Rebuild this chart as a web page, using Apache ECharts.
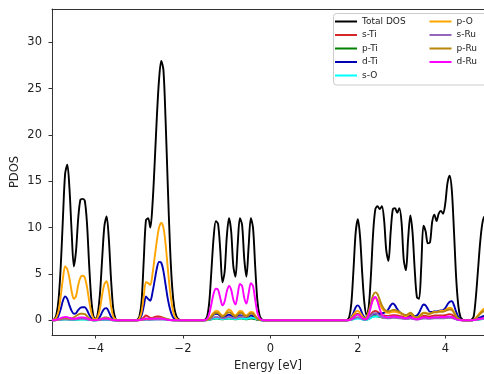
<!DOCTYPE html>
<html><head><meta charset="utf-8">
<script src="https://cdn.jsdelivr.net/npm/echarts@6/dist/echarts.min.js"></script>
<style>html,body{margin:0;padding:0;background:#fff}#c{width:484px;height:374px}</style>
</head><body><div id="c"></div>
<script>
// Energy grid (eV)
const energy = [
 -5.00,-4.95,-4.90,-4.85,-4.80,-4.75,-4.70,-4.65,-4.60,-4.55,-4.50,-4.45,-4.40,-4.35,-4.30,-4.25,-4.20,-4.15,-4.10,-4.05,-4.00,-3.95,-3.90,-3.85,-3.80,-3.75,-3.70,-3.65,-3.60,-3.55,-3.50,
 -3.10,-3.05,-3.00,-2.95,-2.90,-2.85,-2.80,-2.75,-2.70,-2.65,-2.60,-2.55,-2.50,-2.45,-2.40,-2.35,-2.30,-2.25,-2.20,-2.15,-2.10,-2.05,
 -1.55,-1.50,-1.45,-1.40,-1.35,-1.30,-1.25,-1.20,-1.15,-1.10,-1.05,-1.00,-0.95,-0.90,-0.85,-0.80,-0.75,-0.70,-0.65,-0.60,-0.55,-0.50,-0.45,-0.40,-0.35,-0.30,-0.25,-0.20,-0.15,
 1.70,1.75,1.80,1.85,1.90,1.95,2.00,2.05,2.10,2.15,2.20,2.25,2.30,2.35,2.40,2.45,2.50,2.55,2.60,2.65,2.70,2.75,2.80,2.85,2.90,2.95,3.00,3.05,3.10,3.15,3.20,3.25,3.30,3.35,3.40,3.45,3.50,3.55,3.60,3.65,3.70,3.75,3.80,3.85,3.90,3.95,4.00,4.05,4.10,4.15,4.20,4.25,4.30,4.35,4.40,4.45,
 4.50,4.55,4.60,4.65,4.70,4.75,4.80,4.85,4.90,4.95,5.00
];

const totalDOS = [
 0,0.1,0.6,2.2,5.8,11.0,15.8,16.8,14.2,9.5,5.8,7.5,11.0,13.0,13.1,12.9,10.5,6.0,2.2,0.4,0.15,0.8,3.0,6.8,10.2,11.2,8.8,4.5,1.3,0.2,0,
 0,0.05,0.4,2.0,6.5,10.8,11.0,10.0,12.5,17.0,22.0,26.0,28.0,27.0,21.5,14.5,8.0,3.6,1.3,0.4,0.1,0,
 0,0.05,0.4,2.0,5.5,9.0,10.7,10.4,7.6,4.1,5.2,9.0,11.0,9.6,5.8,4.7,8.2,11.0,10.3,6.6,4.7,8.0,11.0,10.0,5.8,2.1,0.5,0.08,0,
 0,0.03,0.3,1.8,5.5,9.5,10.9,9.0,5.0,1.8,0.5,1.5,5.0,9.5,12.0,12.3,12.0,12.3,10.8,7.5,6.4,9.5,12.0,12.1,11.6,12.1,10.5,6.5,5.4,8.8,11.3,9.5,5.5,2.5,2.3,5.8,10.2,9.6,8.3,8.4,10.6,11.4,10.7,11.5,11.8,11.5,12.6,14.8,15.6,14.0,9.5,4.5,1.5,0.3,0.05,0,
 0,0,0.05,0.4,2.5,5.5,8.5,10.5,11.2,11.0,9.5
];
const sTi = [
 0,0,0.02,0.05,0.1,0.15,0.18,0.16,0.12,0.1,0.1,0.12,0.18,0.22,0.22,0.2,0.14,0.07,0.02,0,0,0.01,0.04,0.08,0.12,0.12,0.08,0.03,0.01,0,0,
 0,0,0.02,0.1,0.3,0.5,0.4,0.25,0.25,0.35,0.4,0.4,0.35,0.25,0.12,0.05,0.02,0,0,0,0,0,
 0,0,0.02,0.06,0.15,0.22,0.25,0.24,0.18,0.14,0.16,0.22,0.25,0.22,0.16,0.14,0.2,0.25,0.24,0.17,0.14,0.2,0.25,0.22,0.14,0.05,0.01,0,0,
 0,0,0.02,0.12,0.35,0.6,0.7,0.55,0.3,0.12,0.1,0.3,0.65,0.9,1.0,0.9,0.7,0.55,0.5,0.45,0.45,0.5,0.55,0.55,0.5,0.45,0.4,0.35,0.3,0.35,0.4,0.35,0.25,0.2,0.25,0.35,0.45,0.45,0.4,0.4,0.45,0.5,0.5,0.5,0.5,0.5,0.55,0.6,0.65,0.6,0.45,0.2,0.07,0.02,0,0,
 0,0,0,0.01,0.05,0.1,0.15,0.2,0.22,0.22,0.2
];
const pTi = [
 0,0,0.01,0.03,0.05,0.08,0.1,0.09,0.07,0.05,0.05,0.06,0.08,0.1,0.1,0.09,0.07,0.04,0.01,0,0,0.01,0.02,0.04,0.06,0.06,0.04,0.02,0,0,0,
 0,0,0.01,0.03,0.06,0.1,0.09,0.08,0.1,0.12,0.14,0.15,0.15,0.13,0.1,0.06,0.03,0.01,0,0,0,0,
 0,0,0.01,0.04,0.1,0.15,0.18,0.17,0.12,0.1,0.12,0.16,0.18,0.16,0.12,0.1,0.14,0.18,0.17,0.12,0.1,0.14,0.18,0.16,0.1,0.04,0.01,0,0,
 0,0,0.01,0.05,0.15,0.25,0.3,0.25,0.12,0.05,0.05,0.15,0.3,0.4,0.45,0.4,0.35,0.3,0.28,0.25,0.25,0.28,0.3,0.3,0.28,0.25,0.22,0.2,0.18,0.2,0.22,0.2,0.15,0.12,0.15,0.2,0.25,0.25,0.22,0.22,0.25,0.28,0.28,0.28,0.28,0.28,0.3,0.32,0.35,0.32,0.25,0.12,0.04,0.01,0,0,
 0,0,0,0.01,0.03,0.06,0.09,0.11,0.12,0.12,0.11
];
const dTi = [
 0,0.02,0.15,0.5,1.2,2.1,2.55,2.3,1.6,1.0,0.7,0.75,1.1,1.35,1.4,1.4,1.1,0.6,0.2,0.05,0.03,0.1,0.4,0.9,1.25,1.3,0.9,0.4,0.1,0.02,0,
 0,0.01,0.1,0.5,1.5,2.55,2.3,2.1,3.0,4.3,5.6,6.3,6.2,5.3,3.8,2.3,1.2,0.5,0.15,0.04,0,0,
 0,0.01,0.04,0.15,0.4,0.6,0.7,0.65,0.45,0.3,0.35,0.5,0.6,0.5,0.35,0.3,0.4,0.55,0.5,0.35,0.3,0.4,0.5,0.45,0.3,0.1,0.03,0,0,
 0,0,0.05,0.3,0.8,1.4,1.6,1.3,0.7,0.3,0.2,0.3,0.5,0.65,0.7,0.7,0.7,0.75,0.8,0.9,1.2,1.6,1.8,1.6,1.2,0.9,0.7,0.6,0.55,0.5,0.55,0.5,0.45,0.5,0.8,1.3,1.7,1.6,1.2,0.9,0.9,0.95,0.95,1.0,1.05,1.1,1.3,1.7,2.0,2.05,1.6,0.9,0.35,0.1,0.02,0,
 0,0,0,0.02,0.1,0.2,0.3,0.4,0.45,0.45,0.4
];
const sO = [
 0,0,0.01,0.02,0.04,0.06,0.07,0.06,0.05,0.04,0.04,0.05,0.06,0.07,0.07,0.06,0.05,0.03,0.01,0,0,0,0.01,0.03,0.04,0.04,0.03,0.01,0,0,0,
 0,0,0.01,0.02,0.04,0.06,0.06,0.05,0.06,0.08,0.1,0.1,0.1,0.09,0.07,0.04,0.02,0.01,0,0,0,0,
 0,0,0.01,0.05,0.12,0.18,0.2,0.2,0.15,0.12,0.14,0.18,0.2,0.18,0.14,0.12,0.16,0.2,0.2,0.16,0.15,0.2,0.25,0.25,0.18,0.08,0.02,0,0,
 0,0,0.01,0.04,0.1,0.15,0.18,0.15,0.08,0.04,0.05,0.12,0.25,0.35,0.4,0.4,0.38,0.35,0.35,0.35,0.35,0.35,0.35,0.33,0.3,0.28,0.25,0.22,0.2,0.2,0.22,0.2,0.15,0.12,0.14,0.18,0.22,0.22,0.2,0.2,0.22,0.22,0.22,0.22,0.22,0.22,0.24,0.26,0.28,0.26,0.2,0.1,0.03,0.01,0,0,
 0,0,0,0.01,0.03,0.06,0.09,0.11,0.12,0.12,0.11
];
const pO = [
 0,0.05,0.3,1.0,2.6,4.5,5.8,5.5,4.5,3.1,2.3,2.6,3.8,4.6,4.8,4.6,3.6,2.1,0.8,0.2,0.1,0.4,1.3,2.8,3.9,4.2,3.2,1.5,0.4,0.1,0,
 0,0.02,0.2,0.9,2.6,4.1,4.0,3.8,5.0,6.8,8.6,10.0,10.5,10.0,8.2,5.6,3.2,1.5,0.5,0.15,0.03,0,
 0,0.01,0.05,0.2,0.5,0.8,1.0,0.95,0.7,0.5,0.6,0.95,1.15,1.0,0.65,0.5,0.75,1.0,0.95,0.65,0.5,0.7,0.9,0.85,0.5,0.2,0.05,0.01,0,
 0,0,0.05,0.25,0.6,0.9,1.0,0.8,0.45,0.2,0.3,0.8,1.6,2.2,2.4,2.2,1.7,1.3,1.0,0.85,0.8,0.85,0.9,0.9,0.85,0.8,0.7,0.55,0.45,0.55,0.65,0.5,0.3,0.25,0.4,0.65,0.8,0.8,0.7,0.7,0.8,0.9,0.9,0.95,1.0,1.0,1.1,1.25,1.35,1.25,0.85,0.4,0.15,0.04,0,0,
 0,0,0,0.05,0.25,0.55,0.85,1.1,1.25,1.3,1.2
];
const sRu = [
 0,0,0.01,0.03,0.06,0.09,0.1,0.09,0.07,0.06,0.07,0.1,0.13,0.15,0.15,0.14,0.1,0.05,0.02,0,0,0.01,0.03,0.06,0.08,0.08,0.06,0.02,0,0,0,
 0,0,0.01,0.02,0.04,0.06,0.05,0.05,0.06,0.07,0.08,0.08,0.08,0.07,0.05,0.03,0.01,0,0,0,0,0,
 0,0,0.02,0.08,0.2,0.3,0.35,0.33,0.25,0.2,0.22,0.3,0.35,0.32,0.25,0.22,0.3,0.4,0.4,0.35,0.4,0.55,0.7,0.65,0.4,0.15,0.04,0.01,0,
 0,0,0.01,0.06,0.15,0.25,0.3,0.25,0.12,0.06,0.08,0.25,0.5,0.7,0.75,0.65,0.45,0.3,0.25,0.22,0.2,0.22,0.25,0.25,0.22,0.2,0.18,0.15,0.12,0.15,0.18,0.15,0.1,0.08,0.1,0.15,0.18,0.18,0.16,0.16,0.18,0.2,0.2,0.2,0.2,0.2,0.22,0.24,0.25,0.24,0.18,0.08,0.03,0.01,0,0,
 0,0,0,0.01,0.04,0.08,0.12,0.15,0.16,0.16,0.15
];
const pRu = [
 0,0,0.03,0.08,0.15,0.22,0.25,0.22,0.18,0.2,0.3,0.45,0.6,0.7,0.7,0.65,0.45,0.2,0.07,0.02,0.01,0.03,0.1,0.2,0.3,0.3,0.22,0.1,0.03,0,0,
 0,0,0.02,0.05,0.1,0.15,0.14,0.13,0.15,0.2,0.25,0.28,0.28,0.25,0.18,0.1,0.05,0.02,0,0,0,0,
 0,0.01,0.04,0.15,0.4,0.65,0.8,0.75,0.55,0.4,0.5,0.75,0.85,0.75,0.5,0.4,0.6,0.8,0.75,0.5,0.4,0.55,0.75,0.7,0.4,0.15,0.04,0.01,0,
 0,0,0.03,0.15,0.4,0.6,0.65,0.5,0.3,0.2,0.4,1.0,1.9,2.7,3.0,2.8,2.2,1.6,1.2,1.0,0.95,1.0,1.1,1.1,1.0,0.9,0.75,0.6,0.55,0.65,0.8,0.65,0.4,0.3,0.4,0.6,0.75,0.75,0.7,0.7,0.8,0.85,0.85,0.9,0.9,0.9,1.0,1.1,1.15,1.1,0.8,0.4,0.15,0.04,0,0,
 0,0,0,0.04,0.2,0.45,0.7,0.9,1.0,1.05,1.0
];
const dRu = [
 0,0.01,0.05,0.12,0.22,0.3,0.35,0.33,0.25,0.18,0.15,0.18,0.25,0.3,0.3,0.28,0.2,0.1,0.04,0.01,0.01,0.03,0.08,0.15,0.2,0.2,0.15,0.06,0.02,0,0,
 0,0,0.02,0.06,0.12,0.18,0.17,0.15,0.16,0.18,0.2,0.2,0.18,0.15,0.1,0.05,0.02,0,0,0,0,0,
 0,0.02,0.15,0.7,1.8,2.9,3.4,3.3,2.4,1.6,2.0,3.1,3.7,3.3,2.2,1.7,2.8,3.9,3.7,2.4,1.8,2.9,4.0,3.7,2.2,0.8,0.2,0.03,0,
 0,0,0.02,0.1,0.3,0.5,0.6,0.45,0.2,0.1,0.15,0.6,1.5,2.3,2.5,2.0,1.2,0.6,0.4,0.35,0.3,0.35,0.4,0.4,0.35,0.3,0.3,0.25,0.2,0.25,0.3,0.25,0.15,0.1,0.15,0.25,0.3,0.3,0.25,0.25,0.3,0.3,0.3,0.3,0.35,0.35,0.35,0.4,0.4,0.35,0.25,0.1,0.04,0,0,0,
 0,0,0,0.01,0.05,0.1,0.15,0.2,0.22,0.22,0.2
];

const seriesNames = ['Total DOS','s-Ti','p-Ti','d-Ti','s-O','p-O','s-Ru','p-Ru','d-Ru'];
const seriesValues = [totalDOS, sTi, pTi, dTi, sO, pO, sRu, pRu, dRu];
const seriesColors = ['#000000','#d62728','#008000','#0000b4','#00ffff','#ffa500','#9467bd','#b8860b','#ff00ff'];
const xTicks = [-4,-2,0,2,4];
const yTicks = [0,5,10,15,20,25,30];
const xRange = [-5, 4.886];   // visible part of the energy window (plot is cut at the right edge)
const yRange = [-1.6, 33.6];

const FONT = 'DejaVu Sans';
const fmt = v => String(v).replace('-', '\u2212');

const chart = echarts.init(document.getElementById('c'), null, {renderer:'canvas'});
chart.setOption({
  animation: false,
  backgroundColor: '#fff',
  grid: {left: 52, top: 9, width: 432, height: 326, show: false, containLabel: false, outerBoundsMode: 'none'},
  xAxis: [{
    type: 'value', min: xRange[0], max: xRange[1],
    name: 'Energy [eV]', nameLocation: 'middle', nameGap: 25,
    nameTextStyle: {fontFamily: FONT, fontSize: 11.5, color: '#222', verticalAlign: 'top'},
    axisLine: {show: true, onZero: false, lineStyle: {color: '#333', width: 1}},
    axisTick: {show: true, inside: false, length: 3.5, lineStyle: {color: '#333'}, customValues: xTicks},
    axisLabel: {show: true, margin: 8.5, fontFamily: FONT, fontSize: 11.5, color: '#222', customValues: xTicks, formatter: fmt},
    splitLine: {show: false}
  }, {
    type: 'value', position: 'top', min: xRange[0], max: xRange[1],
    axisLine: {show: true, onZero: false, lineStyle: {color: '#333', width: 1}},
    axisTick: {show: false}, axisLabel: {show: false}, splitLine: {show: false}
  }],
  yAxis: {
    type: 'value', min: yRange[0], max: yRange[1],
    name: 'PDOS', nameLocation: 'middle', nameGap: 31, nameRotate: 90, nameMoveOverlap: false,
    nameTextStyle: {fontFamily: FONT, fontSize: 11.5, color: '#222'},
    axisLine: {show: true, onZero: false, lineStyle: {color: '#333', width: 1}},
    axisTick: {show: true, inside: false, length: 3.5, lineStyle: {color: '#333'}, customValues: yTicks},
    axisLabel: {show: true, margin: 10, fontFamily: FONT, fontSize: 11.5, color: '#222', customValues: yTicks, formatter: fmt},
    splitLine: {show: false}
  },
  graphic: [{
    type: 'rect', z: 100, shape: {x: 333.5, y: 13.5, width: 160, height: 71.5, r: 3},
    style: {fill: 'rgba(255,255,255,0.8)', stroke: '#cccccc', lineWidth: 1}
  }],
  legend: [
    {data: seriesNames.slice(0,5), left: 335, top: 16.5, orient: 'vertical', padding: 0, z: 110,
     icon: 'rect', itemWidth: 22, itemHeight: 2, itemGap: 3.5,
     textStyle: {fontFamily: FONT, fontSize: 9, color: '#222', lineHeight: 10}},
    {data: seriesNames.slice(5), left: 429.5, top: 16.5, orient: 'vertical', padding: 0, z: 110,
     icon: 'rect', itemWidth: 22, itemHeight: 2, itemGap: 3.5,
     textStyle: {fontFamily: FONT, fontSize: 9, color: '#222', lineHeight: 10}}
  ],
  series: seriesNames.map((name, k) => ({
    name, type: 'line', showSymbol: false, symbol: 'none', smooth: 0.3,
    xAxisIndex: 0,
    data: energy.map((e, i) => [e, seriesValues[k][i]]),
    lineStyle: {color: seriesColors[k], width: 1.9},
    itemStyle: {color: seriesColors[k]},
    clip: true, z: 2 + k * 0.01
  }))
});
</script></body></html>
